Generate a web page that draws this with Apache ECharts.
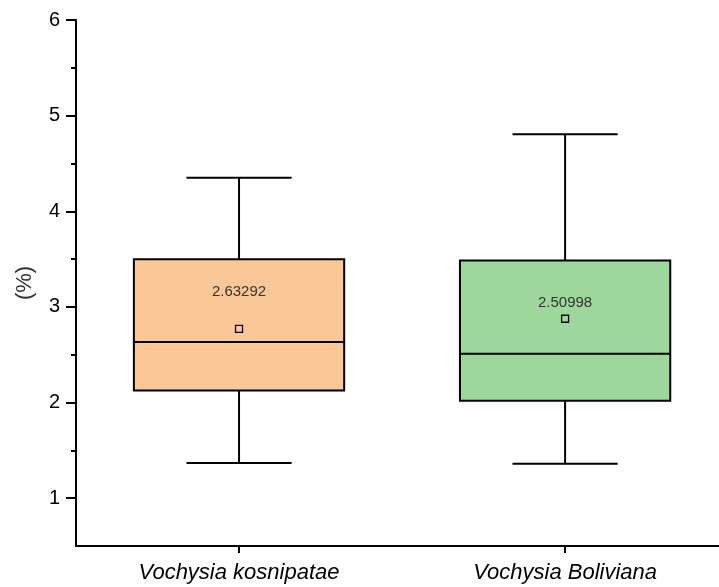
<!DOCTYPE html>
<html>
<head>
<meta charset="utf-8">
<script src="https://cdn.jsdelivr.net/npm/echarts@6/dist/echarts.min.js"></script>
<style>
html,body{margin:0;padding:0;background:#fff;}
#chart{width:719px;height:587px;}
</style>
</head>
<body>
<div id="chart"></div>
<script>
// ---- data ----
const categories = ['Vochysia kosnipatae', 'Vochysia Boliviana'];
const whiskerLow = [1.367, 1.36];
const q1 = [2.125, 2.02];
const median = [2.63292, 2.50998];
const q3 = [3.498, 3.485];
const whiskerHigh = [4.35, 4.805];
const mean = [2.771, 2.876];
const medianLabels = ['2.63292', '2.50998'];
const yTicks = [1, 2, 3, 4, 5, 6];
const yMinorTicks = [1.5, 2.5, 3.5, 4.5, 5.5];
const xPositions = [0, 1];

// ---- styles ----
const boxColors = ['#FAC896', '#9ED79B'];
const labelOffsets = [37, 16];
const FONT = '"Liberation Sans", Arial, sans-serif';

const seriesData = categories.map((c, i) => [xPositions[i], whiskerLow[i], q1[i], median[i], q3[i], whiskerHigh[i], mean[i]]);

const chart = echarts.init(document.getElementById('chart'));
chart.setOption({
  animation: false,
  backgroundColor: '#fff',
  grid: { left: 76, top: 20, bottom: 41, right: 0, containLabel: false },
  xAxis: {
    type: 'value',
    min: -0.5, max: 1.472,
    axisLine: { show: true, onZero: false, lineStyle: { color: '#000', width: 2 } },
    axisTick: { show: true, length: 7, customValues: xPositions, lineStyle: { color: '#000', width: 2 } },
    axisLabel: {
      fontFamily: FONT, fontSize: 22, fontStyle: 'italic', color: '#000', margin: 16,
      customValues: xPositions,
      formatter: function (v) { const k = xPositions.indexOf(Math.round(v)); return k >= 0 ? categories[k] : ''; }
    },
    splitLine: { show: false }
  },
  yAxis: [{
    type: 'value',
    min: 0.5, max: 6,
    name: '(%)',
    nameLocation: 'middle',
    nameGap: 40,
    nameRotate: 90,
    nameTextStyle: { fontFamily: FONT, fontSize: 22, color: '#333' },
    axisLine: { show: true, onZero: false, lineStyle: { color: '#000', width: 2 } },
    axisTick: { show: true, length: 10, customValues: yTicks, lineStyle: { color: '#000', width: 2 } },
    axisLabel: { fontFamily: FONT, fontSize: 20, color: '#000', margin: 16, customValues: yTicks },
    splitLine: { show: false }
  }, {
    type: 'value',
    min: 0.5, max: 6,
    position: 'left',
    axisLine: { show: false, onZero: false },
    axisTick: { show: true, length: 5, customValues: yMinorTicks, lineStyle: { color: '#000', width: 2 } },
    axisLabel: { show: false },
    splitLine: { show: false }
  }],
  series: [{
    type: 'custom',
    xAxisIndex: 0,
    yAxisIndex: 0,
    data: seriesData,
    encode: { x: 0, y: [1, 2, 3, 4, 5, 6] },
    renderItem: function (params, api) {
      const i = params.dataIndex;
      const x = api.value(0);
      const pLow = api.coord([x, api.value(1)]);
      const pQ1 = api.coord([x, api.value(2)]);
      const pMed = api.coord([x, api.value(3)]);
      const pQ3 = api.coord([x, api.value(4)]);
      const pHigh = api.coord([x, api.value(5)]);
      const pMean = api.coord([x, api.value(6)]);
      const unit = api.size([1, 0])[0];
      const bw = unit * 0.645;
      const cw = bw / 2;
      const cx = pQ1[0];
      const ls = { stroke: '#000', lineWidth: 2 };
      return {
        type: 'group',
        children: [
          { type: 'line', shape: { x1: cx, y1: pQ3[1], x2: cx, y2: pHigh[1] }, style: ls },
          { type: 'line', shape: { x1: cx, y1: pQ1[1], x2: cx, y2: pLow[1] }, style: ls },
          { type: 'line', shape: { x1: cx - cw / 2, y1: pHigh[1], x2: cx + cw / 2, y2: pHigh[1] }, style: ls },
          { type: 'line', shape: { x1: cx - cw / 2, y1: pLow[1], x2: cx + cw / 2, y2: pLow[1] }, style: ls },
          { type: 'rect', shape: { x: cx - bw / 2, y: pQ3[1], width: bw, height: pQ1[1] - pQ3[1] },
            style: { fill: boxColors[i], stroke: '#000', lineWidth: 2 } },
          { type: 'line', shape: { x1: cx - bw / 2, y1: pMed[1], x2: cx + bw / 2, y2: pMed[1] }, style: ls },
          { type: 'rect', shape: { x: pMean[0] - 3.5, y: pMean[1] - 3.5, width: 7, height: 7 },
            style: { fill: boxColors[i], stroke: '#000', lineWidth: 1.3 } },
          { type: 'text', style: { text: medianLabels[i], x: cx, y: pMean[1] - labelOffsets[i],
            align: 'center', verticalAlign: 'middle', fontFamily: FONT, fontSize: 15, fill: '#333' } }
        ]
      };
    }
  }]
});
</script>
</body>
</html>
